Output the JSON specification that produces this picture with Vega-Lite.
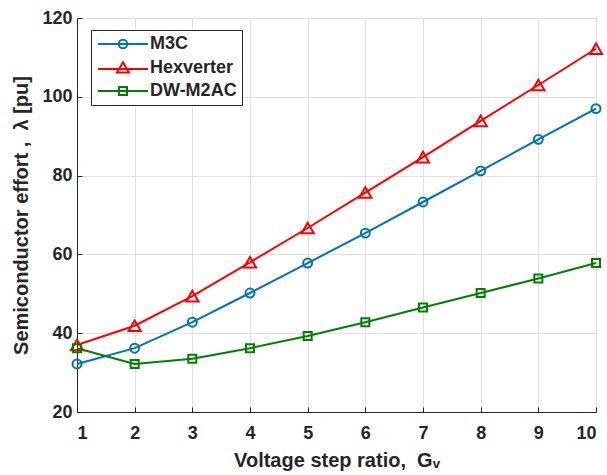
{
  "$schema": "https://vega.github.io/schema/vega-lite/v6.json",
  "autosize": "none",
  "width": 519,
  "height": 394,
  "padding": {"left": 77, "top": 18, "right": 11, "bottom": 63},
  "background": "white",
  "config": {
    "view": {"stroke": "#262626", "strokeWidth": 1},
    "font": "Liberation Sans",
    "axis": {
      "labelFont": "Liberation Sans",
      "labelFontWeight": "bold",
      "labelFontSize": 18,
      "labelColor": "#262626",
      "titleFont": "Liberation Sans",
      "titleFontWeight": "bold",
      "titleFontSize": 20,
      "titleColor": "#262626",
      "domainColor": "#262626",
      "domainWidth": 1,
      "tickColor": "#262626",
      "tickSize": -5,
      "gridColor": "#e0e0e0",
      "gridWidth": 1
    },
    "legend": {
      "orient": "none",
      "legendX": 14,
      "legendY": 12,
      "strokeColor": "#262626",
      "fillColor": "white",
      "padding": 5,
      "labelFont": "Liberation Sans",
      "labelFontWeight": "bold",
      "labelFontSize": 18,
      "labelColor": "#262626",
      "symbolSize": 100,
      "symbolStrokeWidth": 2,
      "symbolOffset": 18,
      "rowPadding": 5,
      "labelOffset": 18
    }
  },
  "data": {
    "values": [
      {"Gv": 1, "series": "M3C", "lambda": 32.2},
      {"Gv": 2, "series": "M3C", "lambda": 36.2},
      {"Gv": 3, "series": "M3C", "lambda": 42.8},
      {"Gv": 4, "series": "M3C", "lambda": 50.2},
      {"Gv": 5, "series": "M3C", "lambda": 57.8},
      {"Gv": 6, "series": "M3C", "lambda": 65.4},
      {"Gv": 7, "series": "M3C", "lambda": 73.3},
      {"Gv": 8, "series": "M3C", "lambda": 81.2},
      {"Gv": 9, "series": "M3C", "lambda": 89.2},
      {"Gv": 10, "series": "M3C", "lambda": 97.0},
      {"Gv": 1, "series": "Hexverter", "lambda": 37.0},
      {"Gv": 2, "series": "Hexverter", "lambda": 41.9},
      {"Gv": 3, "series": "Hexverter", "lambda": 49.4},
      {"Gv": 4, "series": "Hexverter", "lambda": 58.0},
      {"Gv": 5, "series": "Hexverter", "lambda": 66.7},
      {"Gv": 6, "series": "Hexverter", "lambda": 75.7},
      {"Gv": 7, "series": "Hexverter", "lambda": 84.7},
      {"Gv": 8, "series": "Hexverter", "lambda": 93.9},
      {"Gv": 9, "series": "Hexverter", "lambda": 103.0},
      {"Gv": 10, "series": "Hexverter", "lambda": 112.2},
      {"Gv": 1, "series": "DW-M2AC", "lambda": 36.2},
      {"Gv": 2, "series": "DW-M2AC", "lambda": 32.2},
      {"Gv": 3, "series": "DW-M2AC", "lambda": 33.5},
      {"Gv": 4, "series": "DW-M2AC", "lambda": 36.2},
      {"Gv": 5, "series": "DW-M2AC", "lambda": 39.3},
      {"Gv": 6, "series": "DW-M2AC", "lambda": 42.8},
      {"Gv": 7, "series": "DW-M2AC", "lambda": 46.5},
      {"Gv": 8, "series": "DW-M2AC", "lambda": 50.2},
      {"Gv": 9, "series": "DW-M2AC", "lambda": 53.9},
      {"Gv": 10, "series": "DW-M2AC", "lambda": 57.8}
    ]
  },
  "encoding": {
    "x": {
      "field": "Gv", "type": "quantitative",
      "scale": {"domain": [1, 10], "nice": false, "zero": false},
      "axis": {"values": [1,2,3,4,5,6,7,8,9,10], "title": "Voltage step ratio,\u00a0\u00a0G\u1d65", "labelPadding": 17, "titlePadding": 8, "format": "d"}
    },
    "y": {
      "field": "lambda", "type": "quantitative",
      "scale": {"domain": [20, 120], "nice": false, "zero": false},
      "axis": {"values": [20,40,60,80,100,120], "title": "Semiconductor effort ,\u00a0\u00a0\u03bb [pu]", "labelPadding": 10, "titlePadding": 10}
    },
    "color": {
      "field": "series", "type": "nominal", "title": null,
      "scale": {"domain": ["M3C", "Hexverter", "DW-M2AC"], "range": ["#0072BD", "#FF0000", "#008000"]}
    }
  },
  "layer": [
    {"mark": {"type": "line", "strokeWidth": 2}},
    {
      "transform": [{"filter": "datum.series === 'M3C'"}],
      "mark": {"type": "point", "shape": "circle", "filled": false, "size": 80, "strokeWidth": 2, "opacity": 1}
    },
    {
      "transform": [{"filter": "datum.series === 'Hexverter'"}],
      "mark": {"type": "point", "shape": "triangle-up", "filled": false, "size": 150, "strokeWidth": 2, "opacity": 1}
    },
    {
      "transform": [{"filter": "datum.series === 'DW-M2AC'"}],
      "mark": {"type": "point", "shape": "square", "filled": false, "size": 64, "strokeWidth": 2, "opacity": 1}
    },
    {
      "transform": [{"filter": "false"}],
      "mark": {"type": "point", "filled": false, "strokeWidth": 2, "opacity": 1},
      "encoding": {
        "shape": {
          "field": "series", "type": "nominal", "title": null,
          "scale": {
            "domain": ["M3C", "Hexverter", "DW-M2AC"],
            "range": [
              "M-5,0L5,0M0.86,0A0.86,0.86 0 1,1 -0.86,0A0.86,0.86 0 1,1 0.86,0",
              "M-5,0.2L5,0.2M0,-1.15L1.2,0.9L-1.2,0.9Z",
              "M-5,0L5,0M-0.8,-0.8L0.8,-0.8L0.8,0.8L-0.8,0.8Z"
            ]
          }
        }
      }
    }
  ]
}
